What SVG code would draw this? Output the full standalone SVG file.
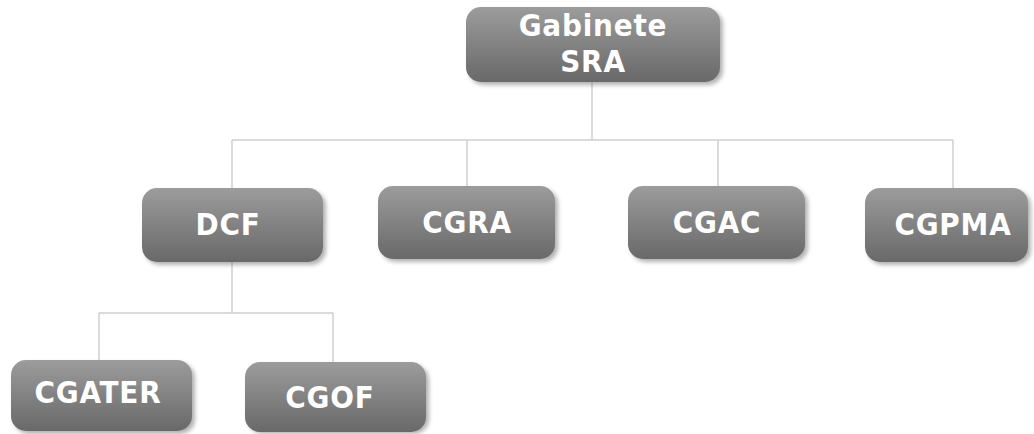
<svg xmlns="http://www.w3.org/2000/svg" width="1034" height="434" viewBox="0 0 1034 434">
<style>
.box{fill:url(#g);}
.sh{fill:#555;opacity:0.45;filter:url(#blur);}
.t{font-family:"DejaVu Sans Condensed","DejaVu Sans",sans-serif;font-stretch:condensed;font-weight:bold;font-size:31px;fill:#fff;text-anchor:middle;letter-spacing:0.8px;}
.c{stroke:#cfcfcf;stroke-width:1.5;fill:none;}
</style>
<defs>
<linearGradient id="g" x1="0" y1="0" x2="0" y2="1">
<stop offset="0" stop-color="#9c9c9c"/>
<stop offset="0.5" stop-color="#828282"/>
<stop offset="1" stop-color="#696969"/>
</linearGradient>
<filter id="blur" x="-10%" y="-10%" width="120%" height="130%"><feGaussianBlur stdDeviation="2"/></filter>
</defs>
<g id="connectors">
<path class="c" d="M592 82 V140 M232 140 H953 M232 140 V188 M467 140 V186 M718 140 V186 M953 140 V188"/>
<path class="c" d="M232 262 V313 M99 313 H333 M99 313 V360 M333 313 V362"/>
</g>
<g id="gabinete">
<rect class="sh" x="469" y="10" width="254" height="75" rx="15"/>
<rect class="box" x="466" y="7" width="254" height="75" rx="15"/>
<text class="t" x="593" y="36">Gabinete</text>
<text class="t" x="593" y="72">SRA</text>
</g>
<g id="dcf">
<rect class="sh" x="145" y="191" width="181" height="74" rx="15"/>
<rect class="box" x="142" y="188" width="181" height="74" rx="15"/>
<text class="t" x="228" y="235">DCF</text>
</g>
<g id="cgra">
<rect class="sh" x="381" y="189" width="177" height="73" rx="15"/>
<rect class="box" x="378" y="186" width="177" height="73" rx="15"/>
<text class="t" x="467" y="233">CGRA</text>
</g>
<g id="cgac">
<rect class="sh" x="631" y="189" width="177" height="73" rx="15"/>
<rect class="box" x="628" y="186" width="177" height="73" rx="15"/>
<text class="t" x="717" y="233">CGAC</text>
</g>
<g id="cgpma">
<rect class="sh" x="868" y="191" width="163" height="74" rx="15"/>
<rect class="box" x="865" y="188" width="163" height="74" rx="15"/>
<text class="t" x="953" y="235">CGPMA</text>
</g>
<g id="cgater">
<rect class="sh" x="14" y="363" width="181" height="71" rx="15"/>
<rect class="box" x="11" y="360" width="181" height="71" rx="15"/>
<text class="t" x="98" y="403">CGATER</text>
</g>
<g id="cgof">
<rect class="sh" x="248" y="365" width="181" height="69" rx="15"/>
<rect class="box" x="245" y="362" width="181" height="70" rx="15"/>
<text class="t" x="330" y="408">CGOF</text>
</g>
</svg>
